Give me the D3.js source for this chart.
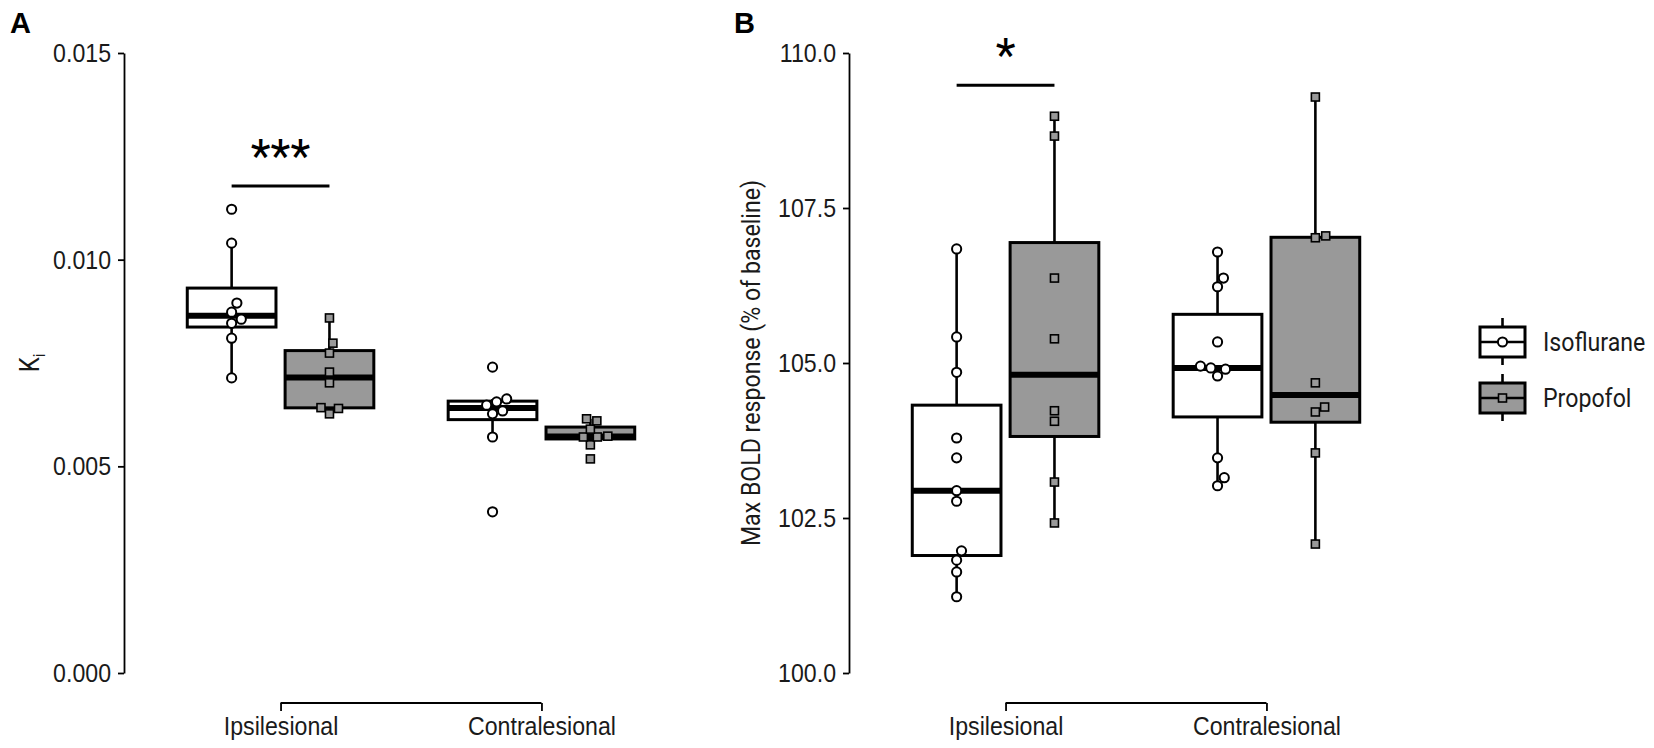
<!DOCTYPE html>
<html>
<head>
<meta charset="utf-8">
<script src="https://cdn.jsdelivr.net/npm/d3@7"></script>
<style>
  body { margin: 0; background: #ffffff; }
  svg { display: block; font-family: Roboto, "Noto Sans", sans-serif; }
</style>
</head>
<body>
<svg id="chart"></svg>
<script>
const categories = ["Ipsilesional", "Contralesional"];
const groups = ["Isoflurane", "Propofol"];

// Panel A - Ki per animal
const kiIsoIpsi = [0.01122, 0.0104, 0.00895, 0.00873, 0.00856, 0.00846, 0.0081, 0.00714];
const kiPropIpsi = [0.00859, 0.00798, 0.00774, 0.00728, 0.00702, 0.00642, 0.0064, 0.00627];
const kiIsoContra = [0.0074, 0.00663, 0.00656, 0.00648, 0.00634, 0.00627, 0.00571, 0.0039];
const kiPropContra = [0.00615, 0.0061, 0.0059, 0.00573, 0.00571, 0.00571, 0.00552, 0.00518];
const kiTicks = [0, 0.005, 0.01, 0.015];
const kiSignif = [{ category: "Ipsilesional", y: 0.01178, label: "***" }];

// Panel B - max BOLD response (% of baseline)
const boldIsoIpsi = [106.84, 105.42, 104.85, 103.79, 103.47, 102.94, 102.77, 101.97, 101.82, 101.63, 101.23];
const boldPropIpsi = [108.98, 108.66, 106.37, 105.39, 104.23, 104.06, 103.08, 102.42];
const boldIsoContra = [106.79, 106.37, 106.23, 105.34, 104.95, 104.92, 104.9, 104.79, 103.47, 103.15, 103.02];
const boldPropContra = [109.29, 107.05, 107.02, 104.68, 104.29, 104.21, 103.55, 102.08];
const boldTicks = [100, 102.5, 105, 107.5, 110];
const boldSignif = [{ category: "Ipsilesional", y: 109.48, label: "*" }];

const fills = { Isoflurane: "#ffffff", Propofol: "#999999" };

const width = 1654;
const height = 748;
const svg = d3.select("#chart").attr("width", width).attr("height", height);

const plotTop = 53, plotBottom = 673, plotW = 574;
const narrow = 0.89; // squeeze Roboto to look like the condensed face in the figure

// box stats the way ggplot does it (type 7 quantiles, 1.5 IQR whiskers)
function boxStats(values) {
  const s = values.slice().sort(d3.ascending);
  const q1 = d3.quantile(s, 0.25), med = d3.quantile(s, 0.5), q3 = d3.quantile(s, 0.75);
  const iqr = q3 - q1;
  const lo = d3.min(s.filter(v => v >= q1 - 1.5 * iqr));
  const hi = d3.max(s.filter(v => v <= q3 + 1.5 * iqr));
  return { q1, med, q3, lo, hi };
}

// simple beeswarm: place points by value, nudge sideways on collision
function swarm(values, y, diam) {
  const pts = values.map(v => ({ v, py: y(v) })).sort((a, b) => d3.ascending(a.v, b.v));
  const placed = [];
  pts.forEach(p => {
    const cands = [0];
    placed.forEach(q => {
      const dy = Math.abs(p.py - q.py);
      if (dy < diam) {
        const dx = Math.sqrt(diam * diam - dy * dy);
        cands.push(q.dx + dx, q.dx - dx);
      }
    });
    cands.sort((a, b) => Math.abs(a) - Math.abs(b));
    p.dx = cands.find(c => placed.every(q => (c - q.dx) ** 2 + (p.py - q.py) ** 2 >= diam * diam - 0.01));
    placed.push(p);
  });
  return pts;
}

function drawPanel(opts) {
  const g = svg.append("g");

  const x = d3.scalePoint().domain(categories).range([opts.x0, opts.x0 + plotW]).padding(0.6);
  const step = x.step();
  const sub = d3.scalePoint().domain(groups).range([-0.1875 * step, 0.1875 * step]);
  const boxW = 0.34 * step;
  const y = d3.scaleLinear().domain(opts.domain).range([plotBottom, plotTop]);

  // y axis
  const yAxis = g.append("g")
    .attr("transform", `translate(${opts.x0},0)`)
    .call(d3.axisLeft(y).tickValues(opts.ticks).tickFormat(d3.format(opts.fmt))
      .tickSize(6).tickSizeOuter(0).tickPadding(7));
  yAxis.select(".domain").attr("stroke", "#000").attr("stroke-width", 1.8);
  yAxis.selectAll(".tick line").attr("stroke", "#000").attr("stroke-width", 1.8);
  yAxis.selectAll(".tick text")
    .attr("fill", "#1a1a1a").style("font-size", "26px")
    .attr("x", -13 / narrow)
    .attr("transform", `scale(${narrow},1)`);

  // x axis, capped between the categories
  const xAxis = g.append("g")
    .attr("transform", `translate(0,${plotBottom + 30})`)
    .call(d3.axisBottom(x).tickSize(8).tickPadding(6));
  xAxis.select(".domain").remove();
  xAxis.append("line")
    .attr("x1", x(categories[0])).attr("x2", x(categories[categories.length - 1]))
    .attr("stroke", "#000").attr("stroke-width", 1.8);
  xAxis.selectAll(".tick line").attr("stroke", "#000").attr("stroke-width", 1.8);
  xAxis.selectAll(".tick text")
    .attr("fill", "#1a1a1a").style("font-size", "26px")
    .attr("transform", `scale(${narrow},1)`);

  // y title
  const title = g.append("text")
    .attr("transform", `translate(${opts.titleX},${(plotTop + plotBottom) / 2}) rotate(-90) scale(${narrow},1)`)
    .attr("text-anchor", "middle")
    .attr("fill", "#1a1a1a")
    .style("font-size", opts.titleSize + "px");
  title.append("tspan").text(opts.title);
  if (opts.titleSub) {
    title.append("tspan").attr("dy", 6).style("font-size", "17px").text(opts.titleSub);
  }

  // panel letter
  g.append("text")
    .attr("x", opts.letterX).attr("y", 33)
    .style("font-size", "29px").style("font-weight", "bold")
    .attr("font-family", "Liberation Sans, Arial, sans-serif")
    .text(opts.letter);

  // boxes
  opts.series.forEach(s => {
    const cx = x(s.category) + sub(s.group);
    const st = boxStats(s.values);
    const bg = g.append("g");
    bg.append("line")
      .attr("x1", cx).attr("x2", cx).attr("y1", y(st.q3)).attr("y2", y(st.hi))
      .attr("stroke", "#000").attr("stroke-width", 2.6);
    bg.append("line")
      .attr("x1", cx).attr("x2", cx).attr("y1", y(st.q1)).attr("y2", y(st.lo))
      .attr("stroke", "#000").attr("stroke-width", 2.6);
    bg.append("rect")
      .attr("x", cx - boxW / 2).attr("width", boxW)
      .attr("y", y(st.q3)).attr("height", Math.max(0, y(st.q1) - y(st.q3)))
      .attr("fill", fills[s.group]).attr("stroke", "#000").attr("stroke-width", 3);
    bg.append("line")
      .attr("x1", cx - boxW / 2).attr("x2", cx + boxW / 2)
      .attr("y1", y(st.med)).attr("y2", y(st.med))
      .attr("stroke", "#000").attr("stroke-width", 6);
  });

  // points
  opts.series.forEach(s => {
    const cx = x(s.category) + sub(s.group);
    const pts = swarm(s.values, y, 10.5);
    if (s.group === "Isoflurane") {
      g.selectAll(null).data(pts).enter().append("circle")
        .attr("cx", d => cx + d.dx).attr("cy", d => d.py).attr("r", 4.6)
        .attr("fill", "#fff").attr("stroke", "#000").attr("stroke-width", 2);
    } else {
      g.selectAll(null).data(pts).enter().append("rect")
        .attr("x", d => cx + d.dx - 4).attr("y", d => d.py - 4)
        .attr("width", 8).attr("height", 8)
        .attr("fill", fills.Propofol).attr("stroke", "#000").attr("stroke-width", 1.6);
    }
  });

  // significance bars
  opts.signif.forEach(a => {
    const x1 = x(a.category) + sub(groups[0]);
    const x2 = x(a.category) + sub(groups[1]);
    g.append("line")
      .attr("x1", x1).attr("x2", x2).attr("y1", y(a.y)).attr("y2", y(a.y))
      .attr("stroke", "#000").attr("stroke-width", 3);
    g.append("text")
      .attr("x", (x1 + x2) / 2).attr("y", y(a.y) - 14)
      .attr("text-anchor", "middle")
      .style("font-size", "46px")
      .text(a.label);
  });
}

drawPanel({
  letter: "A", letterX: 10, x0: 124,
  domain: [0, 0.015], ticks: kiTicks, fmt: ".3f",
  title: "K", titleSub: "i", titleX: 39, titleSize: 27,
  signif: kiSignif,
  series: [
    { category: "Ipsilesional", group: "Isoflurane", values: kiIsoIpsi },
    { category: "Ipsilesional", group: "Propofol", values: kiPropIpsi },
    { category: "Contralesional", group: "Isoflurane", values: kiIsoContra },
    { category: "Contralesional", group: "Propofol", values: kiPropContra }
  ]
});

drawPanel({
  letter: "B", letterX: 734, x0: 849,
  domain: [100, 110], ticks: boldTicks, fmt: ".1f",
  title: "Max BOLD response (% of baseline)", titleX: 760, titleSize: 26,
  signif: boldSignif,
  series: [
    { category: "Ipsilesional", group: "Isoflurane", values: boldIsoIpsi },
    { category: "Ipsilesional", group: "Propofol", values: boldPropIpsi },
    { category: "Contralesional", group: "Isoflurane", values: boldIsoContra },
    { category: "Contralesional", group: "Propofol", values: boldPropContra }
  ]
});

// legend
const legend = svg.append("g").attr("transform", "translate(1480,318)");
const keyW = 45, keyH = 30, keyStep = 56;
const item = legend.selectAll("g").data(groups).enter().append("g")
  .attr("transform", (d, i) => `translate(0,${i * keyStep})`);
item.append("line")
  .attr("x1", keyW / 2).attr("x2", keyW / 2).attr("y1", 0).attr("y2", 47)
  .attr("stroke", "#000").attr("stroke-width", 2.6);
item.append("rect")
  .attr("x", 0).attr("y", 9).attr("width", keyW).attr("height", keyH)
  .attr("fill", d => fills[d]).attr("stroke", "#000").attr("stroke-width", 3);
item.append("line")
  .attr("x1", 0).attr("x2", keyW).attr("y1", 24).attr("y2", 24)
  .attr("stroke", "#000").attr("stroke-width", 2.6);
item.filter(d => d === "Isoflurane").append("circle")
  .attr("cx", keyW / 2).attr("cy", 24).attr("r", 4.6)
  .attr("fill", "#fff").attr("stroke", "#000").attr("stroke-width", 2);
item.filter(d => d === "Propofol").append("rect")
  .attr("x", keyW / 2 - 4).attr("y", 20).attr("width", 8).attr("height", 8)
  .attr("fill", fills.Propofol).attr("stroke", "#000").attr("stroke-width", 1.6);
item.append("text")
  .attr("x", 63 / narrow).attr("y", 24).attr("dy", "0.35em")
  .attr("transform", `scale(${narrow},1)`)
  .attr("fill", "#1a1a1a")
  .style("font-size", "26px")
  .text(d => d);
</script>
</body>
</html>
